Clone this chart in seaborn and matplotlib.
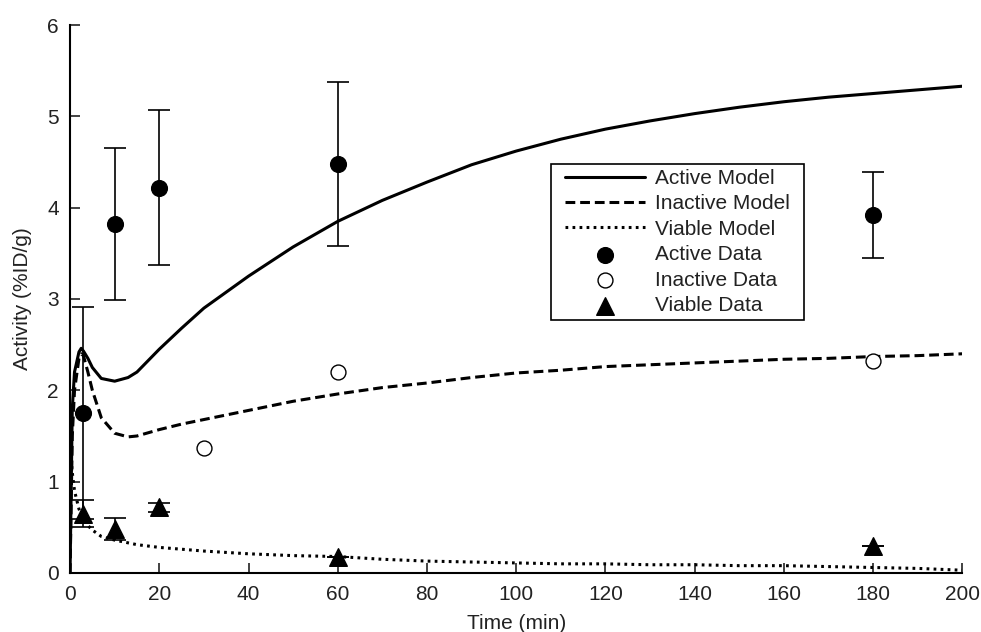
import numpy as np
import pandas as pd
import matplotlib
matplotlib.use("Agg")
import matplotlib.pyplot as plt
from matplotlib.path import Path
import seaborn as sns

# Model curves
t_model = [0, 0.5, 1, 2, 2.5, 3, 4, 5, 7, 10, 13, 15, 20, 25, 30, 40, 50, 60, 70, 80, 90,
           100, 110, 120, 130, 140, 150, 160, 170, 180, 190, 200]
active_model = [0, 1.8, 2.2, 2.42, 2.46, 2.43, 2.35, 2.25, 2.13, 2.1, 2.14, 2.2, 2.45, 2.68, 2.9,
                3.25, 3.57, 3.85, 4.08, 4.28, 4.47, 4.62, 4.75, 4.86, 4.95, 5.03, 5.1, 5.16,
                5.21, 5.25, 5.29, 5.33]
inactive_model = [0, 1.5, 2.0, 2.35, 2.4, 2.38, 2.2, 2.0, 1.7, 1.53, 1.49, 1.5, 1.57, 1.63, 1.68,
                  1.78, 1.88, 1.96, 2.03, 2.08, 2.14, 2.19, 2.22, 2.26, 2.28, 2.3, 2.32, 2.34,
                  2.35, 2.37, 2.38, 2.4]
viable_model = [1.4, 1.1, 0.9, 0.7, 0.65, 0.6, 0.52, 0.47, 0.4, 0.36, 0.33, 0.31, 0.28, 0.26, 0.24,
                0.21, 0.19, 0.18, 0.15, 0.13, 0.12, 0.11, 0.1, 0.1, 0.09, 0.09, 0.08, 0.08, 0.07,
                0.06, 0.05, 0.03]

# Data points
t_active = [3, 10, 20, 60, 180]
active_data = [1.75, 3.82, 4.22, 4.48, 3.92]
active_err = [1.16, 0.83, 0.85, 0.9, 0.47]

t_inactive = [30, 60, 180]
inactive_data = [1.37, 2.2, 2.32]

t_viable = [3, 10, 20, 60, 180]
viable_data = [0.65, 0.48, 0.72, 0.17, 0.3]
viable_err = [0.15, 0.12, 0.05, 0.0, 0.0]

x_ticks = [0, 20, 40, 60, 80, 100, 120, 140, 160, 180, 200]
y_ticks = [0, 1, 2, 3, 4, 5, 6]

sns.set_style("ticks")
plt.rcParams['font.family'] = ['Liberation Sans', 'DejaVu Sans']

fig = plt.figure(figsize=(9.81, 6.32), dpi=100)
ax = fig.add_axes([0.0714, 0.0934, 0.9096, 0.867])

df_model = pd.DataFrame({"t": t_model, "a": active_model, "i": inactive_model, "v": viable_model})
sns.lineplot(data=df_model, x="t", y="a", ax=ax, color="black", lw=2.2, label="Active Model")
sns.lineplot(data=df_model, x="t", y="i", ax=ax, color="black", lw=2.2, label="Inactive Model",
             linestyle=(0, (3.2, 1.6)))
sns.lineplot(data=df_model, x="t", y="v", ax=ax, color="black", lw=2.2, label="Viable Model",
             linestyle=(0, (0.9, 1.4)))

ax.errorbar(t_active, active_data, yerr=active_err, fmt="none", ecolor="black", elinewidth=1.2,
            capsize=8, capthick=1.2)
ax.errorbar(t_viable, viable_data, yerr=viable_err, fmt="none", ecolor="black", elinewidth=1.2,
            capsize=8, capthick=1.2)

sns.scatterplot(x=t_active, y=active_data, ax=ax, marker="o", s=130, color="black",
                edgecolor="black", label="Active Data", zorder=5)
sns.scatterplot(x=t_inactive, y=inactive_data, ax=ax, marker="o", s=115, facecolor="white",
                edgecolor="black", linewidth=1.0, label="Inactive Data", zorder=5)
sns.scatterplot(x=t_viable, y=viable_data, ax=ax, marker="^", s=160, color="black",
                edgecolor="black", label="Viable Data", zorder=5)

ax.set_xlim(0, 200)
ax.set_ylim(0, 6)
ax.set_xticks(x_ticks)
ax.set_yticks(y_ticks)
ax.tick_params(direction="in", length=7, width=1.2, labelsize=15, colors="#222222")
ax.tick_params(axis="x", pad=9)
ax.tick_params(axis="y", pad=8)
for s in ["top", "right"]:
    ax.spines[s].set_visible(False)
for s in ["left", "bottom"]:
    ax.spines[s].set_linewidth(1.5)
    ax.spines[s].set_color("black")
ax.set_xlabel("Time (min)", fontsize=15, labelpad=7, color="#222222")
ax.set_ylabel("Activity (%ID/g)", fontsize=15, labelpad=11, color="#222222")

leg = ax.legend(loc="upper left", bbox_to_anchor=(0.537, 0.766), fontsize=15, frameon=True,
                fancybox=False, edgecolor="black", framealpha=1, handlelength=3.85,
                labelspacing=0.31, borderpad=0.25, handletextpad=0.5)
leg.get_frame().set_linewidth(1.2)


def wide_box(x0, y0, width, height, mutation_size):
    px = 0.4 * mutation_size
    x0 -= px
    width += 2 * px
    return Path.unit_rectangle().transformed(
        matplotlib.transforms.Affine2D().scale(width, height).translate(x0, y0))


leg.get_frame().set_boxstyle(wide_box)
for txt in leg.get_texts():
    txt.set_color("#222222")

fig.savefig("out.png", dpi=100)
